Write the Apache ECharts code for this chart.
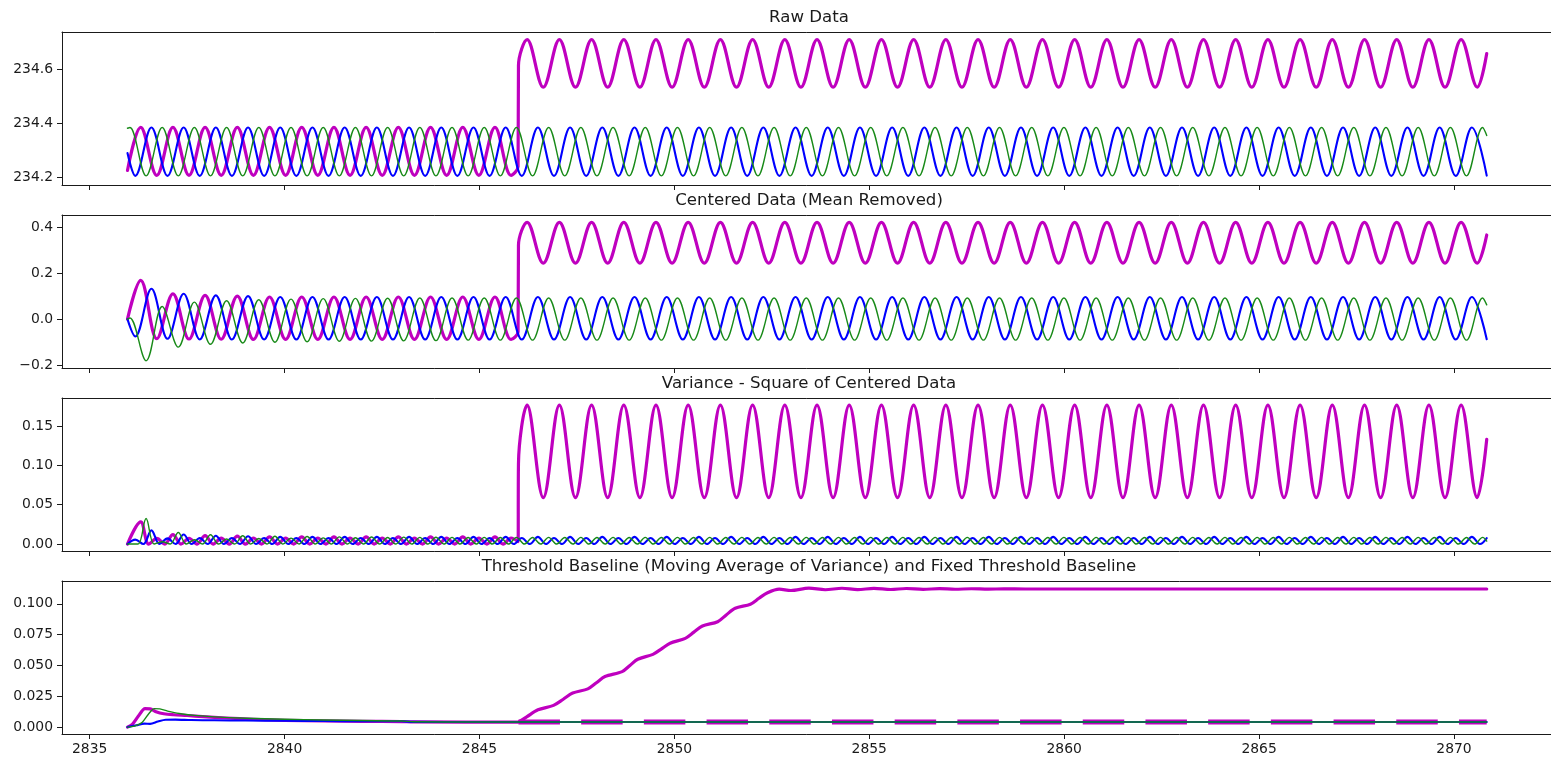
<!DOCTYPE html>
<html>
<head>
<meta charset="utf-8">
<script src="https://cdn.jsdelivr.net/npm/echarts@6/dist/echarts.min.js"></script>
<style>
  html, body { margin: 0; padding: 0; background: #ffffff; }
  #chart { width: 1551px; height: 759px; }
</style>
</head>
<body>
<div id="chart"></div>
<script>
// ---- time base of the three-phase signal ----
const T_START = 2835.97;
const T_END = 2870.84;
const T_JUMP_PRE = 2845.99;
const T_JUMP = 2846.0;
const HALF_PERIOD = 0.4131;      // spacing of successive peaks/troughs
const QUARTER_PERIOD = 0.20655;  // spacing of extrema of the squared signal
const MAGENTA_T0 = 2836.309;     // first magenta peak
const MAGENTA_POST_T0 = 2846.2234; // first magenta peak after the step
const BLUE_T0 = 2836.171;        // first blue trough
const GREEN_T0 = 2836.034;       // first green peak

const xTicks = [2835, 2840, 2845, 2850, 2855, 2860, 2865, 2870];

// ---- Raw data: successive extrema ----
const rawMagentaBefore = [
  234.385, 234.207, 234.385, 234.207, 234.385, 234.207, 234.385, 234.207,
  234.385, 234.207, 234.385, 234.207, 234.385, 234.207, 234.385, 234.207,
  234.385, 234.207, 234.385, 234.207, 234.385, 234.207, 234.385, 234.207
];
const rawMagentaAfter = [
  234.712, 234.535, 234.712, 234.535, 234.712, 234.535, 234.712, 234.535,
  234.712, 234.535, 234.712, 234.535, 234.712, 234.535, 234.712, 234.535,
  234.712, 234.535, 234.712, 234.535, 234.712, 234.535, 234.712, 234.535,
  234.712, 234.535, 234.712, 234.535, 234.712, 234.535, 234.712, 234.535,
  234.712, 234.535, 234.712, 234.535, 234.712, 234.535, 234.712, 234.535,
  234.712, 234.535, 234.712, 234.535, 234.712, 234.535, 234.712, 234.535,
  234.712, 234.535, 234.712, 234.535, 234.712, 234.535, 234.712, 234.535,
  234.712, 234.535, 234.712, 234.535
];
const rawMagentaEdges = [[T_START, 234.225], [T_JUMP_PRE, 234.240], [T_JUMP, 234.615], [T_END, 234.660]];

const rawBlue = [
  234.205, 234.385, 234.205, 234.385, 234.205, 234.385, 234.205, 234.385,
  234.205, 234.385, 234.205, 234.385, 234.205, 234.385, 234.205, 234.385,
  234.205, 234.385, 234.205, 234.385, 234.205, 234.385, 234.205, 234.385,
  234.205, 234.385, 234.205, 234.385, 234.205, 234.385, 234.205, 234.385,
  234.205, 234.385, 234.205, 234.385, 234.205, 234.385, 234.205, 234.385,
  234.205, 234.385, 234.205, 234.385, 234.205, 234.385, 234.205, 234.385,
  234.205, 234.385, 234.205, 234.385, 234.205, 234.385, 234.205, 234.385,
  234.205, 234.385, 234.205, 234.385, 234.205, 234.385, 234.205, 234.385,
  234.205, 234.385, 234.205, 234.385, 234.205, 234.385, 234.205, 234.385,
  234.205, 234.385, 234.205, 234.385, 234.205, 234.385, 234.205, 234.385,
  234.205, 234.385, 234.205, 234.385
];
const rawBlueEdges = [[T_START, 234.290], [T_END, 234.206]];

const rawGreen = [
  234.385, 234.205, 234.385, 234.205, 234.385, 234.205, 234.385, 234.205,
  234.385, 234.205, 234.385, 234.205, 234.385, 234.205, 234.385, 234.205,
  234.385, 234.205, 234.385, 234.205, 234.385, 234.205, 234.385, 234.205,
  234.385, 234.205, 234.385, 234.205, 234.385, 234.205, 234.385, 234.205,
  234.385, 234.205, 234.385, 234.205, 234.385, 234.205, 234.385, 234.205,
  234.385, 234.205, 234.385, 234.205, 234.385, 234.205, 234.385, 234.205,
  234.385, 234.205, 234.385, 234.205, 234.385, 234.205, 234.385, 234.205,
  234.385, 234.205, 234.385, 234.205, 234.385, 234.205, 234.385, 234.205,
  234.385, 234.205, 234.385, 234.205, 234.385, 234.205, 234.385, 234.205,
  234.385, 234.205, 234.385, 234.205, 234.385, 234.205, 234.385, 234.205,
  234.385, 234.205, 234.385, 234.205, 234.385
];
const rawGreenEdges = [[T_START, 234.382], [T_END, 234.355]];

// ---- Centered data: successive extrema ----
const centeredMagentaBefore = [
  0.168, -0.085, 0.110, -0.086, 0.103, -0.087, 0.100, -0.088,
  0.096, -0.088, 0.096, -0.088, 0.096, -0.088, 0.096, -0.088,
  0.096, -0.088, 0.096, -0.088, 0.096, -0.088, 0.096, -0.088
];
const centeredMagentaAfter = [
  0.420, 0.243, 0.420, 0.243, 0.420, 0.243, 0.420, 0.243,
  0.420, 0.243, 0.420, 0.243, 0.420, 0.243, 0.420, 0.243,
  0.420, 0.243, 0.420, 0.243, 0.420, 0.243, 0.420, 0.243,
  0.420, 0.243, 0.420, 0.243, 0.420, 0.243, 0.420, 0.243,
  0.420, 0.243, 0.420, 0.243, 0.420, 0.243, 0.420, 0.243,
  0.420, 0.243, 0.420, 0.243, 0.420, 0.243, 0.420, 0.243,
  0.420, 0.243, 0.420, 0.243, 0.420, 0.243, 0.420, 0.243,
  0.420, 0.243, 0.420, 0.243
];
const centeredMagentaEdges = [[T_START, 0], [T_JUMP_PRE, -0.055], [T_JUMP, 0.320], [T_END, 0.365]];

const centeredBlue = [
  -0.075, 0.132, -0.085, 0.110, -0.088, 0.103, -0.088, 0.100,
  -0.088, 0.096, -0.088, 0.096, -0.088, 0.096, -0.088, 0.096,
  -0.088, 0.096, -0.088, 0.096, -0.088, 0.096, -0.088, 0.096,
  -0.088, 0.096, -0.088, 0.096, -0.088, 0.096, -0.088, 0.096,
  -0.088, 0.096, -0.088, 0.096, -0.088, 0.096, -0.088, 0.096,
  -0.088, 0.096, -0.088, 0.096, -0.088, 0.096, -0.088, 0.096,
  -0.088, 0.096, -0.088, 0.096, -0.088, 0.096, -0.088, 0.096,
  -0.088, 0.096, -0.088, 0.096, -0.088, 0.096, -0.088, 0.096,
  -0.088, 0.096, -0.088, 0.096, -0.088, 0.096, -0.088, 0.096,
  -0.088, 0.096, -0.088, 0.096, -0.088, 0.096, -0.088, 0.096,
  -0.088, 0.096, -0.088, 0.096
];
const centeredBlueEdges = [[T_START, 0], [T_END, -0.087]];

const centeredGreen = [
  0.005, -0.180, 0.055, -0.121, 0.074, -0.109, 0.080, -0.103,
  0.084, -0.100, 0.087, -0.098, 0.089, -0.096, 0.090, -0.095,
  0.091, -0.094, 0.092, -0.093, 0.092, -0.091, 0.092, -0.091,
  0.092, -0.091, 0.092, -0.091, 0.092, -0.091, 0.092, -0.091,
  0.092, -0.091, 0.092, -0.091, 0.092, -0.091, 0.092, -0.091,
  0.092, -0.091, 0.092, -0.091, 0.092, -0.091, 0.092, -0.091,
  0.092, -0.091, 0.092, -0.091, 0.092, -0.091, 0.092, -0.091,
  0.092, -0.091, 0.092, -0.091, 0.092, -0.091, 0.092, -0.091,
  0.092, -0.091, 0.092, -0.091, 0.092, -0.091, 0.092, -0.091,
  0.092, -0.091, 0.092, -0.091, 0.092, -0.091, 0.092, -0.091,
  0.092, -0.091, 0.092, -0.091, 0.092
];
const centeredGreenEdges = [[T_START, 0], [T_END, 0.062]];

// ---- Variance (square of centered data): extrema incl. zero touches ----
const sqMagentaBefore = [
  0.0282, 0, 0.0072, 0, 0.0121, 0, 0.0074, 0,
  0.0106, 0, 0.0076, 0, 0.0100, 0, 0.0077, 0,
  0.0092, 0, 0.0077, 0, 0.0092, 0, 0.0077, 0,
  0.0092, 0, 0.0077, 0, 0.0092, 0, 0.0077, 0,
  0.0092, 0, 0.0077, 0, 0.0092, 0, 0.0077, 0,
  0.0092, 0, 0.0077, 0, 0.0092, 0, 0.0077
];
const sqMagentaAfter = [
  0.1764, 0.0590, 0.1764, 0.0590, 0.1764, 0.0590, 0.1764, 0.0590,
  0.1764, 0.0590, 0.1764, 0.0590, 0.1764, 0.0590, 0.1764, 0.0590,
  0.1764, 0.0590, 0.1764, 0.0590, 0.1764, 0.0590, 0.1764, 0.0590,
  0.1764, 0.0590, 0.1764, 0.0590, 0.1764, 0.0590, 0.1764, 0.0590,
  0.1764, 0.0590, 0.1764, 0.0590, 0.1764, 0.0590, 0.1764, 0.0590,
  0.1764, 0.0590, 0.1764, 0.0590, 0.1764, 0.0590, 0.1764, 0.0590,
  0.1764, 0.0590, 0.1764, 0.0590, 0.1764, 0.0590, 0.1764, 0.0590,
  0.1764, 0.0590, 0.1764, 0.0590
];
const sqMagentaEdges = [[T_START, 0], [T_JUMP_PRE, 0.003], [T_JUMP, 0.102], [T_END, 0.133]];

const sqBlue = [
  0.0056, 0, 0.0174, 0, 0.0072, 0, 0.0121, 0,
  0.0077, 0, 0.0106, 0, 0.0077, 0, 0.0100, 0,
  0.0077, 0, 0.0092, 0, 0.0077, 0, 0.0092, 0,
  0.0077, 0, 0.0092, 0, 0.0077, 0, 0.0092, 0,
  0.0077, 0, 0.0092, 0, 0.0077, 0, 0.0092, 0,
  0.0077, 0, 0.0092, 0, 0.0077, 0, 0.0092, 0,
  0.0077, 0, 0.0092, 0, 0.0077, 0, 0.0092, 0,
  0.0077, 0, 0.0092, 0, 0.0077, 0, 0.0092, 0,
  0.0077, 0, 0.0092, 0, 0.0077, 0, 0.0092, 0,
  0.0077, 0, 0.0092, 0, 0.0077, 0, 0.0092, 0,
  0.0077, 0, 0.0092, 0, 0.0077, 0, 0.0092, 0,
  0.0077, 0, 0.0092, 0, 0.0077, 0, 0.0092, 0,
  0.0077, 0, 0.0092, 0, 0.0077, 0, 0.0092, 0,
  0.0077, 0, 0.0092, 0, 0.0077, 0, 0.0092, 0,
  0.0077, 0, 0.0092, 0, 0.0077, 0, 0.0092, 0,
  0.0077, 0, 0.0092, 0, 0.0077, 0, 0.0092, 0,
  0.0077, 0, 0.0092, 0, 0.0077, 0, 0.0092, 0,
  0.0077, 0, 0.0092, 0, 0.0077, 0, 0.0092, 0,
  0.0077, 0, 0.0092, 0, 0.0077, 0, 0.0092, 0,
  0.0077, 0, 0.0092, 0, 0.0077, 0, 0.0092, 0,
  0.0077, 0, 0.0092, 0, 0.0077, 0, 0.0092, 0
];
const sqBlueEdges = [[T_START, 0], [T_END, 0.0076]];

const sqGreen = [
  0.0000, 0, 0.0324, 0, 0.0030, 0, 0.0146, 0,
  0.0055, 0, 0.0119, 0, 0.0064, 0, 0.0106, 0,
  0.0071, 0, 0.0100, 0, 0.0076, 0, 0.0096, 0,
  0.0079, 0, 0.0092, 0, 0.0081, 0, 0.0090, 0,
  0.0083, 0, 0.0088, 0, 0.0085, 0, 0.0086, 0,
  0.0085, 0, 0.0083, 0, 0.0085, 0, 0.0083, 0,
  0.0085, 0, 0.0083, 0, 0.0085, 0, 0.0083, 0,
  0.0085, 0, 0.0083, 0, 0.0085, 0, 0.0083, 0,
  0.0085, 0, 0.0083, 0, 0.0085, 0, 0.0083, 0,
  0.0085, 0, 0.0083, 0, 0.0085, 0, 0.0083, 0,
  0.0085, 0, 0.0083, 0, 0.0085, 0, 0.0083, 0,
  0.0085, 0, 0.0083, 0, 0.0085, 0, 0.0083, 0,
  0.0085, 0, 0.0083, 0, 0.0085, 0, 0.0083, 0,
  0.0085, 0, 0.0083, 0, 0.0085, 0, 0.0083, 0,
  0.0085, 0, 0.0083, 0, 0.0085, 0, 0.0083, 0,
  0.0085, 0, 0.0083, 0, 0.0085, 0, 0.0083, 0,
  0.0085, 0, 0.0083, 0, 0.0085, 0, 0.0083, 0,
  0.0085, 0, 0.0083, 0, 0.0085, 0, 0.0083, 0,
  0.0085, 0, 0.0083, 0, 0.0085, 0, 0.0083, 0,
  0.0085, 0, 0.0083, 0, 0.0085, 0, 0.0083, 0,
  0.0085, 0, 0.0083, 0, 0.0085, 0, 0.0083, 0,
  0.0085
];
const sqGreenEdges = [[T_START, 0], [T_END, 0.0038]];

// ---- Threshold baseline (moving average of variance): [time, value] ----
const maMagenta = [
  [2835.97, 0], [2836.10, 0.0025], [2836.25, 0.0090], [2836.42, 0.0150], [2836.55, 0.0148],
  [2836.70, 0.0125], [2836.90, 0.0108], [2837.15, 0.0100], [2837.50, 0.0094], [2837.90, 0.0085],
  [2838.50, 0.0074], [2839.20, 0.0063], [2840.00, 0.0055], [2841.00, 0.0050], [2842.00, 0.0047],
  [2843.00, 0.0045], [2843.30, 0.0042], [2845.97, 0.0041],
  [2846.00, 0.0042], [2846.22, 0.0085], [2846.50, 0.0140], [2846.90, 0.0176], [2847.15, 0.0226],
  [2847.39, 0.0276], [2847.78, 0.0310], [2848.00, 0.0360], [2848.22, 0.0410], [2848.66, 0.0450],
  [2848.86, 0.0500], [2849.06, 0.0550], [2849.45, 0.0590], [2849.67, 0.0635], [2849.89, 0.0680],
  [2850.28, 0.0720], [2850.50, 0.0770], [2850.72, 0.0820], [2851.11, 0.0855], [2851.33, 0.0910],
  [2851.56, 0.0964], [2851.95, 0.0997], [2852.17, 0.1045], [2852.39, 0.1090], [2852.69, 0.1119],
  [2852.99, 0.1108], [2853.45, 0.1127], [2853.87, 0.1114], [2854.30, 0.1126], [2854.70, 0.1115],
  [2855.12, 0.1125], [2855.55, 0.1116], [2855.95, 0.1124], [2856.38, 0.1117], [2856.80, 0.1123],
  [2857.20, 0.1118], [2857.62, 0.1122], [2858.05, 0.1119], [2858.45, 0.1121], [2859.00, 0.1120],
  [2870.84, 0.1120]
];
const maBlue = [
  [2835.97, 0], [2836.20, 0.0015], [2836.40, 0.0028], [2836.55, 0.0026], [2836.75, 0.0045],
  [2836.95, 0.0060], [2837.20, 0.0061], [2837.60, 0.0057], [2838.20, 0.0055], [2839.00, 0.0053],
  [2840.00, 0.0051], [2841.00, 0.0049], [2842.00, 0.0048], [2843.00, 0.0047], [2843.30, 0.0042],
  [2845.00, 0.0041], [2870.84, 0.0041]
];
const maGreen = [
  [2835.97, 0], [2836.15, 0.0008], [2836.35, 0.0040], [2836.52, 0.0110], [2836.66, 0.0150],
  [2836.80, 0.0148], [2837.00, 0.0130], [2837.30, 0.0110], [2837.70, 0.0095], [2838.20, 0.0083],
  [2839.00, 0.0072], [2840.00, 0.0064], [2841.00, 0.0058], [2842.00, 0.0053], [2843.00, 0.0049],
  [2843.30, 0.0043], [2845.00, 0.0041], [2870.84, 0.0041]
];
const fixedThreshold = [[T_JUMP, 0.0042], [T_END, 0.0042]];

// ---- panel set-up ----
const panels = [
  { title: 'Raw Data', min: 234.171, max: 234.740, ticks: [234.2, 234.4, 234.6], digits: 1 },
  { title: 'Centered Data (Mean Removed)', min: -0.2117, max: 0.4516, ticks: [-0.2, 0.0, 0.2, 0.4], digits: 1 },
  { title: 'Variance - Square of Centered Data', min: -0.0088, max: 0.1855, ticks: [0, 0.05, 0.10, 0.15], digits: 2 },
  { title: 'Threshold Baseline (Moving Average of Variance) and Fixed Threshold Baseline',
    min: -0.0056, max: 0.1185, ticks: [0, 0.025, 0.05, 0.075, 0.1], digits: 3 }
];

const GRID_LEFT = 62, GRID_WIDTH = 1494, GRID_HEIGHT = 153;
const PANEL_TOPS = [32, 215, 398, 581];
const X_MIN = 2834.29, X_MAX = 2872.617;
const FONT = '"DejaVu Sans", "Liberation Sans", sans-serif';
const FRAME = { color: '#1a1a1a', width: 1 };

const MAGENTA = { color: '#bf00bf', width: 3.2 };
const BLUE = { color: '#0000ff', width: 2.1 };
const GREEN = { color: '#188a18', width: 1.4 };

// pair evenly spaced samples with their times
function onGrid(t0, step, values) {
  return values.map((v, i) => [+(t0 + i * step).toFixed(5), v]);
}
function assemble(parts) {
  return [].concat(...parts).sort((a, b) => a[0] - b[0]);
}

function line(panel, data, style, extra) {
  return Object.assign({
    type: 'line',
    xAxisIndex: panel * 2,
    yAxisIndex: panel,
    data: data,
    showSymbol: false,
    symbol: 'none',
    smooth: 0.36,
    silent: true,
    animation: false,
    lineStyle: { color: style.color, width: style.width, cap: 'round', join: 'round' },
    itemStyle: { color: style.color },
    emphasis: { disabled: true }
  }, extra || {});
}

const series = [
  // Raw
  line(0, assemble([onGrid(MAGENTA_T0, HALF_PERIOD, rawMagentaBefore),
                    onGrid(MAGENTA_POST_T0, HALF_PERIOD, rawMagentaAfter), rawMagentaEdges]), MAGENTA),
  line(0, assemble([onGrid(BLUE_T0, HALF_PERIOD, rawBlue), rawBlueEdges]), BLUE),
  line(0, assemble([onGrid(GREEN_T0, HALF_PERIOD, rawGreen), rawGreenEdges]), GREEN),
  // Centered
  line(1, assemble([onGrid(MAGENTA_T0, HALF_PERIOD, centeredMagentaBefore),
                    onGrid(MAGENTA_POST_T0, HALF_PERIOD, centeredMagentaAfter), centeredMagentaEdges]), MAGENTA),
  line(1, assemble([onGrid(BLUE_T0, HALF_PERIOD, centeredBlue), centeredBlueEdges]), BLUE),
  line(1, assemble([onGrid(GREEN_T0, HALF_PERIOD, centeredGreen), centeredGreenEdges]), GREEN),
  // Variance
  line(2, assemble([onGrid(MAGENTA_T0, QUARTER_PERIOD, sqMagentaBefore),
                    onGrid(MAGENTA_POST_T0, HALF_PERIOD, sqMagentaAfter), sqMagentaEdges]), MAGENTA),
  line(2, assemble([onGrid(BLUE_T0, QUARTER_PERIOD, sqBlue), sqBlueEdges]), BLUE),
  line(2, assemble([onGrid(GREEN_T0, QUARTER_PERIOD, sqGreen), sqGreenEdges]), GREEN),
  // Threshold baselines
  line(3, maMagenta, MAGENTA, { smooth: 0.3 }),
  line(3, fixedThreshold, { color: '#bf00bf', width: 5 }, {
    smooth: false,
    lineStyle: { color: '#bf00bf', width: 5, type: [41.5, 21.2], cap: 'butt' }
  }),
  line(3, maBlue, BLUE, { smooth: 0.3 }),
  line(3, maGreen, GREEN, { smooth: 0.3 })
];

const grids = [], xAxes = [], yAxes = [], titles = [];
panels.forEach((p, i) => {
  grids.push({
    left: GRID_LEFT, top: PANEL_TOPS[i], width: GRID_WIDTH, height: GRID_HEIGHT,
    show: false, containLabel: false, outerBoundsMode: 'none'
  });
  // bottom axis: frame edge, ticks and (last panel) labels
  xAxes.push({
    type: 'value', gridIndex: i, min: X_MIN, max: X_MAX, position: 'bottom',
    axisLine: { show: true, onZero: false, lineStyle: FRAME },
    splitLine: { show: false },
    axisTick: { show: true, length: 5, customValues: xTicks, lineStyle: FRAME },
    axisLabel: {
      show: i === panels.length - 1, customValues: xTicks, margin: 8,
      color: '#1a1a1a', fontSize: 13.9, fontFamily: FONT,
      formatter: v => String(Math.round(v))
    }
  });
  // top axis: frame edge only
  xAxes.push({
    type: 'value', gridIndex: i, min: X_MIN, max: X_MAX, position: 'top',
    axisLine: { show: true, onZero: false, lineStyle: FRAME },
    splitLine: { show: false }, axisTick: { show: false }, axisLabel: { show: false }
  });
  yAxes.push({
    type: 'value', gridIndex: i, min: p.min, max: p.max, position: 'left',
    axisLine: { show: true, onZero: false, lineStyle: FRAME },
    splitLine: { show: false },
    axisTick: { show: true, length: 5, customValues: p.ticks, lineStyle: FRAME },
    axisLabel: {
      show: true, customValues: p.ticks, margin: 9,
      color: '#1a1a1a', fontSize: 13.9, fontFamily: FONT,
      formatter: v => v.toFixed(p.digits).replace('-', '\u2212')
    }
  });
  titles.push({
    type: 'text',
    x: GRID_LEFT + GRID_WIDTH / 2,
    y: PANEL_TOPS[i] - 14,
    silent: true,
    style: {
      text: p.title,
      fill: '#1a1a1a',
      font: '16.6px ' + FONT,
      textAlign: 'center', textVerticalAlign: 'middle',
      align: 'center', verticalAlign: 'middle'
    }
  });
});

const chart = echarts.init(document.getElementById('chart'), null, { renderer: 'canvas' });
chart.setOption({
  backgroundColor: '#ffffff',
  animation: false,
  grid: grids,
  xAxis: xAxes,
  yAxis: yAxes,
  series: series,
  graphic: titles
});
</script>
</body>
</html>
